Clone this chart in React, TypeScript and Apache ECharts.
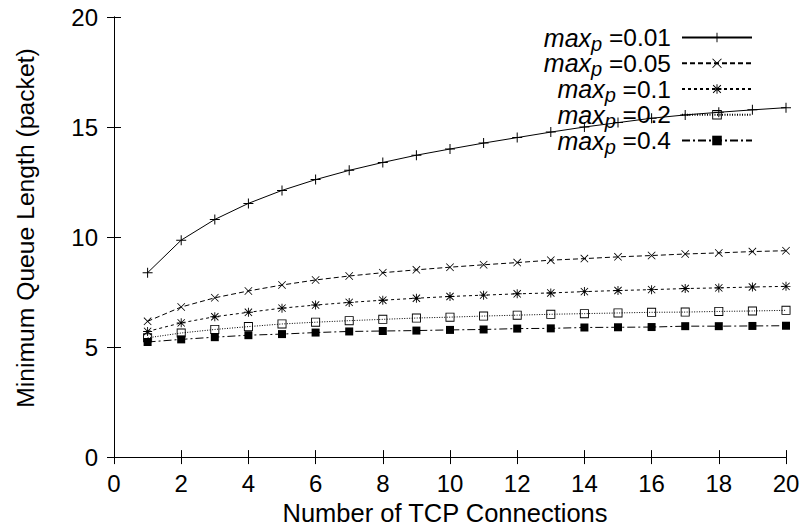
import React, { useEffect, useRef } from "react";
import * as echarts from "echarts";

const connections = [1, 2, 3, 4, 5, 6, 7, 8, 9, 10, 11, 12, 13, 14, 15, 16, 17, 18, 19, 20];
const maxPLabels = ["0.01", "0.05", "0.1", "0.2", "0.4"];
const q001 = [8.38, 9.86, 10.8, 11.53, 12.12, 12.61, 13.03, 13.39, 13.72, 14.0, 14.27, 14.52, 14.77, 15.0, 15.2, 15.4, 15.55, 15.67, 15.78, 15.88];
const q005 = [6.17, 6.82, 7.24, 7.55, 7.82, 8.05, 8.23, 8.38, 8.51, 8.63, 8.74, 8.84, 8.95, 9.02, 9.1, 9.16, 9.23, 9.28, 9.34, 9.38];
const q01 = [5.71, 6.1, 6.38, 6.58, 6.77, 6.91, 7.03, 7.13, 7.22, 7.3, 7.36, 7.42, 7.46, 7.52, 7.57, 7.61, 7.66, 7.69, 7.73, 7.76];
const q02 = [5.42, 5.64, 5.8, 5.93, 6.05, 6.13, 6.2, 6.26, 6.32, 6.36, 6.41, 6.45, 6.49, 6.52, 6.55, 6.58, 6.59, 6.62, 6.64, 6.67];
const q04 = [5.23, 5.35, 5.45, 5.54, 5.59, 5.66, 5.71, 5.73, 5.75, 5.78, 5.8, 5.84, 5.85, 5.89, 5.9, 5.91, 5.95, 5.95, 5.96, 5.97];
const xTicks = { min: 0, max: 20, interval: 2 };
const yTicks = { min: 0, max: 20, interval: 5 };

const FONT = "'Liberation Sans', Arial, Helvetica, sans-serif";

const SYM_PLUS = "path://M4.5,0H5.5V4.5H10V5.5H5.5V10H4.5V5.5H0V4.5H4.5Z";
const SYM_X = "path://M0,0.7L0.7,0L10,9.3L9.3,10Z M10,0.7L0.7,10L0,9.3L9.3,0Z";
const SYM_STAR =
  "path://M4.5,0H5.5V4.5H10V5.5H5.5V10H4.5V5.5H0V4.5H4.5Z M0.6,1.3L1.3,0.6L9.4,8.7L8.7,9.4Z M9.4,1.3L1.3,9.4L0.6,8.7L8.7,0.6Z";
const SYM_BOX = "path://M0,0H10V10H0Z M1,1V9H9V1Z";

const seriesValues = [q001, q005, q01, q02, q04];
const seriesSymbols = [SYM_PLUS, SYM_X, SYM_STAR, SYM_BOX, "rect"];
const seriesSymbolSizes = [10, 8, 9, 9, 8];
const seriesDash: any[] = ["solid", [5, 3], [3, 3], [1, 1.5], [8, 3, 2, 3]];

export default function App() {
  const ref = useRef<HTMLDivElement>(null);
  useEffect(() => {
    if (!ref.current) return;
    const chart = echarts.init(ref.current, undefined, { renderer: "svg" });
    const names = maxPLabels.map((l) => "max_p=" + l);
    const option: any = {
      animation: false,
      backgroundColor: "#fff",
      textStyle: { fontFamily: FONT, color: "#000" },
      grid: { left: 114, right: 17, top: 17, bottom: 69, show: false },
      legend: {
        orient: "vertical",
        right: 45,
        top: 20,
        align: "right",
        itemWidth: 70,
        itemHeight: 12,
        itemGap: -2.75,
        data: names,
        formatter: (name: string) => {
          const idx = names.indexOf(name);
          return "{i|max}{s|p}{n| =" + maxPLabels[idx] + "}";
        },
        textStyle: {
          fontFamily: FONT,
          fontSize: 24,
          color: "#000",
          padding: [0, 6, 0, 0],
          rich: {
            i: { fontFamily: FONT, fontSize: 25, fontStyle: "italic", lineHeight: 24, color: "#000" },
            s: { fontFamily: FONT, fontSize: 20, fontStyle: "italic", lineHeight: 24, height: 12, verticalAlign: "bottom", color: "#000" },
            n: { fontFamily: FONT, fontSize: 24.5, lineHeight: 24, color: "#000" },
          },
        },
      },
      xAxis: [
        {
          type: "value",
          position: "bottom",
          ...xTicks,
          name: "Number of TCP Connections",
          nameLocation: "middle",
          nameGap: 40,
          nameTextStyle: { fontFamily: FONT, fontSize: 25.5, color: "#000", padding: [0, 10, 0, 0] },
          axisLine: { show: true, lineStyle: { color: "#000", width: 1 } },
          axisTick: { show: true, inside: true, length: 7, lineStyle: { color: "#000" } },
          axisLabel: { fontFamily: FONT, fontSize: 24, color: "#000", margin: 14 },
          splitLine: { show: false },
        },
        {
          type: "value",
          position: "top",
          ...xTicks,
          axisLine: { show: true, lineStyle: { color: "#000", width: 1 } },
          axisTick: { show: true, inside: true, length: 7, lineStyle: { color: "#000" } },
          axisLabel: { show: false },
          splitLine: { show: false },
        },
      ],
      yAxis: [
        {
          type: "value",
          position: "left",
          ...yTicks,
          name: "Minimum Queue Length (packet)",
          nameLocation: "middle",
          nameGap: 76,
          nameTextStyle: { fontFamily: FONT, fontSize: 24.7, color: "#000", padding: [0, 0, 0, 18] },
          axisLine: { show: true, lineStyle: { color: "#000", width: 1 } },
          axisTick: { show: true, inside: true, length: 7, lineStyle: { color: "#000" } },
          axisLabel: { fontFamily: FONT, fontSize: 24, color: "#000", margin: 16 },
          splitLine: { show: false },
        },
        {
          type: "value",
          position: "right",
          ...yTicks,
          axisLine: { show: true, lineStyle: { color: "#000", width: 1 } },
          axisTick: { show: true, inside: true, length: 7, lineStyle: { color: "#000" } },
          axisLabel: { show: false },
          splitLine: { show: false },
        },
      ],
      series: seriesValues.map((vals, i) => ({
        name: names[i],
        type: "line",
        xAxisIndex: 0,
        yAxisIndex: 0,
        data: connections.map((c, j) => [c, vals[j]]),
        symbol: seriesSymbols[i],
        symbolSize: seriesSymbolSizes[i],
        showSymbol: true,
        showAllSymbol: true,
        color: "#000",
        itemStyle: { color: "#000", borderWidth: 0 },
        lineStyle: { color: "#000", width: 1, type: seriesDash[i] },
        emphasis: { disabled: true },
        z: 10 - i,
      })),
    };
    chart.setOption(option);
    return () => chart.dispose();
  }, []);
  return <div ref={ref} style={{ width: 803, height: 531, position: "absolute", left: 0, top: 0 }} />;
}
